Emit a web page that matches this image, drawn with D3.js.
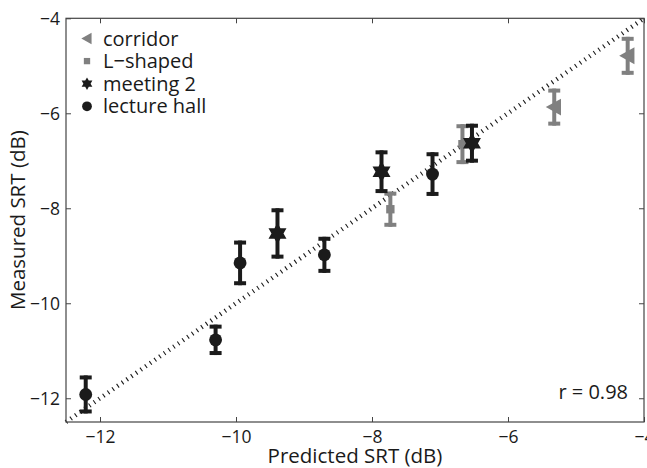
<!DOCTYPE html>
<html>
<head>
<meta charset="utf-8">
<script src="https://cdn.jsdelivr.net/npm/d3@7"></script>
<style>
  body { margin: 0; background: #fff; }
  text { font-family: "Open Sans", "Noto Sans", sans-serif; fill: #1a1a1a; }
</style>
</head>
<body>
<svg id="chart" width="647" height="468"></svg>
<script>
// values (dB)
var lecturePred = [-12.21, -10.30, -9.94, -8.70, -7.11];
var lectureMeas = [-11.92, -10.77, -9.15, -8.98, -7.28];
var lectureErr  = [0.40, 0.32, 0.47, 0.38, 0.46];

var meetingPred = [-9.39, -7.86, -6.53];
var meetingMeas = [-8.53, -7.23, -6.63];
var meetingErr  = [0.53, 0.45, 0.41];

var lshapedPred = [-7.73, -6.67];
var lshapedMeas = [-8.02, -6.65];
var lshapedErr  = [0.37, 0.42];

var corridorPred = [-5.32, -4.24];
var corridorMeas = [-5.87, -4.79];
var corridorErr  = [0.39, 0.40];

var xTicks = [-12, -10, -8, -6, -4];
var yTicks = [-12, -10, -8, -6, -4];
var legendNames = ["corridor", "L\u2212shaped", "meeting 2", "lecture hall"];

var black = "#1b1b1b", gray = "#808080";

var svg = d3.select("#chart");
var margin = {left: 66, top: 18.3, right: 3, bottom: 46};
var W = 647 - margin.left - margin.right,
    H = 468 - margin.top - margin.bottom;

var x = d3.scaleLinear().domain([-12.5, -4]).range([0, W]);
var y = d3.scaleLinear().domain([-12.5, -4]).range([H, 0]);

var g = svg.append("g").attr("transform", "translate(" + margin.left + "," + margin.top + ")");

// six pointed star like matlab 'h'
var hexagram = {
  draw: function(ctx, size) {
    var R = Math.sqrt(size) * 0.62, r = R * 0.58;
    for (var i = 0; i < 12; i++) {
      var a = Math.PI / 6 * i - Math.PI / 2;
      var rr = i % 2 ? r : R;
      if (i == 0) ctx.moveTo(rr * Math.cos(a), rr * Math.sin(a));
      else ctx.lineTo(rr * Math.cos(a), rr * Math.sin(a));
    }
    ctx.closePath();
  }
};
var triLeft = {
  draw: function(ctx, size) {
    var s = Math.sqrt(size) * 0.6;
    ctx.moveTo(-s, 0);
    ctx.lineTo(s * 0.8, -s);
    ctx.lineTo(s * 0.8, s);
    ctx.closePath();
  }
};

// identity line
g.append("line")
  .attr("x1", x(-12.5)).attr("y1", y(-12.5))
  .attr("x2", x(-4)).attr("y2", y(-4))
  .attr("stroke", black)
  .attr("stroke-width", 4.5)
  .attr("stroke-dasharray", "1.1,4.6");

// axes
var xAxis = d3.axisBottom(x).tickValues(xTicks).tickSize(-5).tickPadding(9).tickFormat(d3.format("d"));
var yAxis = d3.axisLeft(y).tickValues(yTicks).tickSize(-5).tickPadding(6).tickFormat(d3.format("d"));

var gx = g.append("g").attr("transform", "translate(0," + H + ")").call(xAxis);
var gy = g.append("g").call(yAxis);
g.append("g").call(d3.axisTop(x).tickValues(xTicks).tickSize(-5).tickFormat(""));
g.append("g").attr("transform", "translate(" + W + ",0)").call(d3.axisRight(y).tickValues(yTicks).tickSize(-5).tickFormat(""));

g.selectAll(".domain").remove();
g.selectAll(".tick line").attr("stroke", "#444");
g.append("rect").attr("width", W).attr("height", H)
  .attr("fill", "none").attr("stroke", "#444").attr("stroke-width", 1.2);

gx.selectAll("text").attr("font-size", 17.5).attr("fill", "#1a1a1a");
gy.selectAll("text").attr("font-size", 17.5).attr("fill", "#1a1a1a").attr("dy", "0.35em");
g.selectAll(".tick text").attr("font-family", "\"Open Sans\", sans-serif");

// error bars + markers
function series(pred, meas, err, color, sym, size) {
  var data = pred.map(function(p, i) { return {p: p, m: meas[i], e: err[i]}; });
  var s = g.append("g");
  var cap = 6;
  s.selectAll(".v").data(data).enter().append("line")
    .attr("x1", function(d) { return x(d.p); }).attr("x2", function(d) { return x(d.p); })
    .attr("y1", function(d) { return y(d.m + d.e); }).attr("y2", function(d) { return y(d.m - d.e); })
    .attr("stroke", color).attr("stroke-width", 4);
  [1, -1].forEach(function(sg) {
    s.selectAll(".c" + sg).data(data).enter().append("line")
      .attr("x1", function(d) { return x(d.p) - cap; }).attr("x2", function(d) { return x(d.p) + cap; })
      .attr("y1", function(d) { return y(d.m + sg * d.e) + sg * 2; })
      .attr("y2", function(d) { return y(d.m + sg * d.e) + sg * 2; })
      .attr("stroke", color).attr("stroke-width", 4);
  });
  s.selectAll("path").data(data).enter().append("path")
    .attr("transform", function(d) { return "translate(" + x(d.p) + "," + y(d.m) + ")"; })
    .attr("d", d3.symbol().type(sym).size(size))
    .attr("fill", color);
}

series(corridorPred, corridorMeas, corridorErr, gray, triLeft, 200);
series(lshapedPred, lshapedMeas, lshapedErr, gray, d3.symbolSquare, 70);
series(lecturePred, lectureMeas, lectureErr, black, d3.symbolCircle, 130);
series(meetingPred, meetingMeas, meetingErr, black, hexagram, 280);

// legend
var legSyms = [
  {sym: triLeft, size: 90, color: gray},
  {sym: d3.symbolSquare, size: 40, color: gray},
  {sym: hexagram, size: 100, color: black},
  {sym: d3.symbolCircle, size: 75, color: black}
];
var leg = svg.append("g");
legendNames.forEach(function(name, i) {
  var yy = 38.5 + i * 22.6;
  leg.append("path")
    .attr("transform", "translate(87," + yy + ")")
    .attr("d", d3.symbol().type(legSyms[i].sym).size(legSyms[i].size))
    .attr("fill", legSyms[i].color);
  leg.append("text").attr("x", 103).attr("y", yy).attr("dy", "0.35em")
    .attr("font-size", 20).text(name);
});

// correlation
svg.append("text").attr("x", 628).attr("y", 399).attr("text-anchor", "end")
  .attr("font-size", 20).text("r = 0.98");

// axis labels
svg.append("text").attr("x", margin.left + W / 2).attr("y", 463).attr("text-anchor", "middle")
  .attr("font-size", 20.5).text("Predicted SRT (dB)");
svg.append("text").attr("transform", "translate(25," + (margin.top + H / 2) + ") rotate(-90)")
  .attr("text-anchor", "middle").attr("font-size", 20.5).text("Measured SRT (dB)");
</script>
</body>
</html>
